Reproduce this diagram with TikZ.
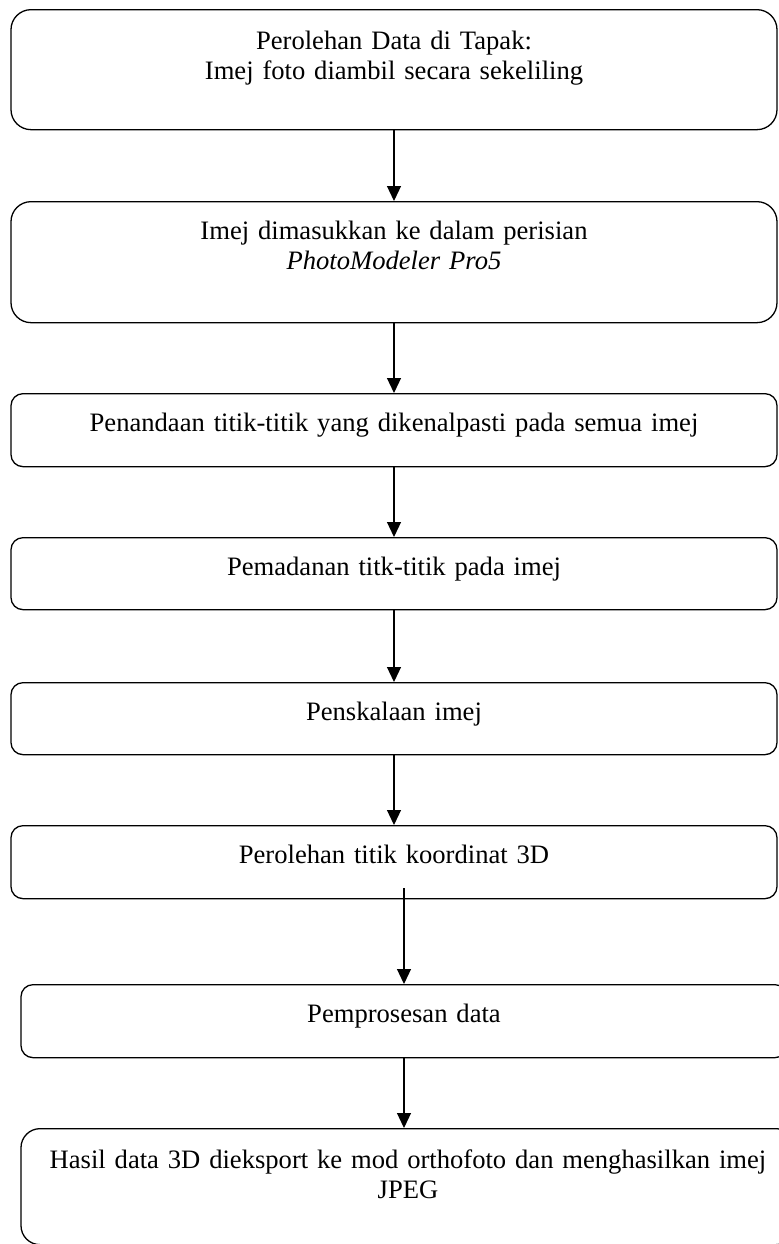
\documentclass[tikz,border=0pt]{standalone}
\usepackage{fontspec}
\setmainfont{Liberation Serif}
\usetikzlibrary{arrows.meta}

\begin{document}
\begin{tikzpicture}[x=0.5pt,y=-0.5pt,
	stepbox/.style={draw,line width=0.65pt,anchor=north,inner sep=0pt,align=center,text width=383pt,text height=19pt,rounded corners=6pt,font={\fontsize{13.3pt}{15pt}\selectfont}},
	flowarrow/.style={-{Triangle[width=7pt,length=7.5pt]},line width=0.6pt}]
	\useasboundingbox (0,0) rectangle (778,1244);
	
	\node[stepbox,rounded corners=10pt,text height=20pt,text depth=40pt] (perolehan) at (394,9) {Perolehan Data di Tapak:\\Imej foto diambil secara sekeliling};
	\node[stepbox,rounded corners=10pt,text depth=41.5pt] (imej) at (394,201) {Imej dimasukkan ke dalam perisian\\\textit{PhotoModeler Pro5}};
	\node[stepbox,text depth=17.5pt] (penandaan) at (394,393) {Penandaan titik-titik yang dikenalpasti pada semua imej};
	\node[stepbox,text depth=17pt] (pemadanan) at (394,537) {Pemadanan titk-titik pada imej};
	\node[stepbox,text depth=17pt] (penskalaan) at (394,682) {Penskalaan imej};
	\node[stepbox,text depth=17.5pt] (koordinat) at (394,825) {Perolehan titik koordinat 3D};
	\node[stepbox,text depth=17.5pt] (proses) at (404,984) {Pemprosesan data};
	\node[stepbox,rounded corners=9.5pt,text width=387pt,text height=20pt,text depth=38pt] (hasil) at (408,1128) {Hasil data 3D dieksport ke mod orthofoto dan menghasilkan imej\\JPEG};
	
	\draw[flowarrow] (perolehan) -- (imej);
	\draw[flowarrow] (imej) -- (penandaan);
	\draw[flowarrow] (penandaan) -- (pemadanan);
	\draw[flowarrow] (pemadanan) -- (penskalaan);
	\draw[flowarrow] (penskalaan) -- (koordinat);
	
	\coordinate (koordinat-out) at ([yshift=5.5pt]koordinat.south);
	\draw[flowarrow] (koordinat-out -| proses.north) -- (proses.north);
	\draw[flowarrow] (proses.south) -- (proses.south |- hasil.north);
\end{tikzpicture}
\end{document}
